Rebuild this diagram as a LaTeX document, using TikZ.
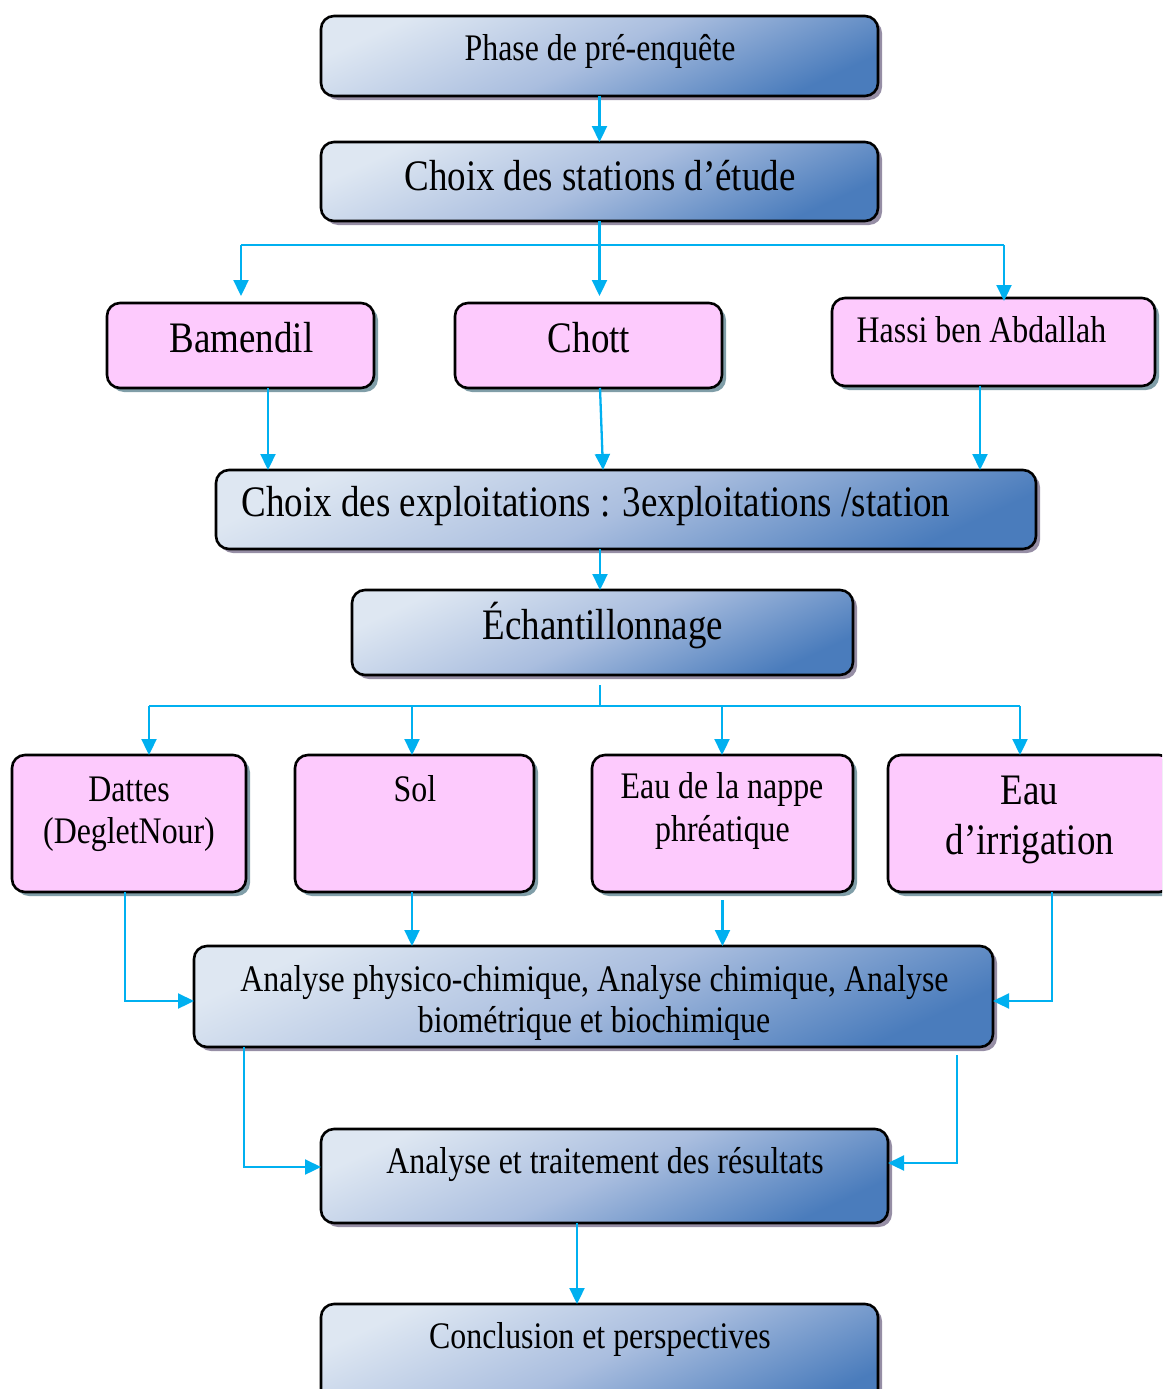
\documentclass[tikz,border=0pt]{standalone}
\usepackage{fontspec}
\setmainfont[FakeStretch=0.85]{Liberation Serif}
\usetikzlibrary{arrows.meta,shadows,calc}
\definecolor{arrc}{RGB}{0,176,240}
\definecolor{lightb}{RGB}{222,231,242}
\definecolor{midb}{RGB}{170,190,223}
\definecolor{darkb}{RGB}{74,124,188}
\definecolor{pinkc}{RGB}{253,202,253}
\definecolor{pshadow}{RGB}{128,158,168}
\definecolor{bshadow}{RGB}{150,142,165}
\newcommand{\smallf}{\fontsize{37.5}{45}\selectfont}
\newcommand{\bigf}{\fontsize{43.5}{52}\selectfont}
\tikzset{
  boxbase/.style={draw=black, line width=2.6pt, rounded corners=13pt, inner sep=0pt, outer sep=0pt},
  bluebox/.style={boxbase, top color=lightb, bottom color=darkb, middle color=midb, shading angle=25,
    drop shadow={shadow xshift=4pt, shadow yshift=-4pt, fill=bshadow, opacity=1}},
  pinkbox/.style={boxbase, fill=pinkc,
    drop shadow={shadow xshift=4pt, shadow yshift=-4pt, fill=pshadow, opacity=1}},
  txt/.style={anchor=base, inner sep=0pt, text=black},
  line/.style={draw=arrc, line width=2.3pt},
  arr/.style={line, -{Triangle[length=16pt,width=15pt]}}
}
\begin{document}
\begin{tikzpicture}[x=1pt,y=-1pt]
\useasboundingbox (0,0) rectangle (1162,1389);
\clip (0,0) rectangle (1162,1389);
% boxes
\node[bluebox, minimum width=557pt, minimum height=80pt] (phase) at (599.5,56) {};
\node[bluebox, minimum width=557pt, minimum height=79pt] (choix) at (599.5,181.5) {};
\node[pinkbox, minimum width=267pt, minimum height=85pt] (bam) at (240.5,345.5) {};
\node[pinkbox, minimum width=267pt, minimum height=85pt] (chott) at (588.5,345.5) {};
\node[pinkbox, minimum width=323pt, minimum height=88pt] (hassi) at (993.5,342) {};
\node[bluebox, minimum width=820pt, minimum height=79pt] (expl) at (626,509.5) {};
\node[bluebox, minimum width=501pt, minimum height=85pt] (ech) at (602.5,632.5) {};
\node[pinkbox, minimum width=234pt, minimum height=137pt] (dattes) at (129,823.5) {};
\node[pinkbox, minimum width=239pt, minimum height=137pt] (sol) at (414.5,823.5) {};
\node[pinkbox, minimum width=261pt, minimum height=137pt] (nappe) at (722.5,823.5) {};
\node[pinkbox, minimum width=284pt, minimum height=137pt] (irr) at (1030,823.5) {};
\node[bluebox, minimum width=799pt, minimum height=101pt] (ana) at (593.5,996.5) {};
\node[bluebox, minimum width=567pt, minimum height=94pt] (trait) at (604.5,1176) {};
\node[bluebox, minimum width=557pt, minimum height=112pt] (concl) at (599.5,1360) {};
% texts
\node[txt] (tphase) at (600,60) {\smallf Phase de pré-enquête};
\node[txt] (tchoix) at (600,190) {\bigf Choix des stations d’étude};
\node[txt] (tbam) at (241.5,352) {\bigf Bamendil};
\node[txt] (tchott) at (589,352) {\bigf Chott};
\node[txt] (thassi) at (981.5,342) {\smallf Hassi ben Abdallah};
\node[txt] (texpl) at (596,516) {\bigf Choix des exploitations : 3exploitations /station};
\node[txt] (tech) at (603,639) {\bigf Échantillonnage};
\node[txt] (tdat1) at (129,801) {\smallf Dattes};
\node[txt] (tdat2) at (129,843) {\smallf (DegletNour)};
\node[txt] (tsol) at (415,801) {\smallf Sol};
\node[txt] (tnap1) at (722,798) {\smallf Eau de la nappe};
\node[txt] (tnap2) at (722.5,841) {\smallf phréatique};
\node[txt] (tirr1) at (1029.5,804) {\bigf Eau};
\node[txt] (tirr2) at (1030,854) {\bigf d’irrigation};
\node[txt] (tana1) at (594.5,991) {\smallf Analyse physico-chimique, Analyse chimique, Analyse};
\node[txt] (tana2) at (594,1032) {\smallf biométrique et biochimique};
\node[txt] (ttrait) at (605,1173) {\smallf Analyse et traitement des résultats};
\node[txt] (tconcl) at (600,1348) {\smallf Conclusion et perspectives};
% junction coordinates
\coordinate (j1) at (599.5,245);
\coordinate (jb) at (241,245);
\coordinate (jh) at (1004,245);
\coordinate (j2) at (600,706);
\coordinate (jd) at (149,706);
\coordinate (js) at (412,706);
\coordinate (jn) at (722,706);
\coordinate (ji) at (1020,706);
% connectors
\draw[arr] (phase.south) -- (choix.north);
\draw[line] (choix.south) -- (j1);
\draw[line] (jb) -- (jh);
\draw[arr, shorten >=7pt] (jb) -- (jb |- bam.north);
\draw[arr, shorten >=7pt] (j1) -- (j1 |- chott.north);
\draw[arr, shorten >=-3pt] (jh) -- (jh |- hassi.north);
\draw[arr] ([xshift=27.5pt]bam.south) -- ([xshift=27.5pt]bam.south |- expl.north);
\draw[arr] ([xshift=11.5pt]chott.south) -- ([xshift=14.5pt]chott.south |- expl.north);
\draw[arr] ([xshift=-13.5pt]hassi.south) -- ([xshift=-13.5pt]hassi.south |- expl.north);
\draw[arr] ([xshift=-2.5pt]ech.north |- expl.south) -- ([xshift=-2.5pt]ech.north);
\draw[line] ($(j2 |- ech.south)+(0,10)$) -- (j2);
\draw[line] (jd) -- (ji);
\draw[arr] (jd) -- (jd |- dattes.north);
\draw[arr] (js) -- (js |- sol.north);
\draw[arr] (jn) -- (jn |- nappe.north);
\draw[arr] (ji) -- (ji |- irr.north);
\draw[arr] ([xshift=-4pt]dattes.south) |- ([yshift=-4.5pt]ana.west);
\draw[arr] ([xshift=-2.5pt]sol.south) -- ([xshift=-2.5pt]sol.south |- ana.north);
\draw[arr] ([yshift=-8pt]nappe.south) -- (nappe.south |- ana.north);
\draw[arr] ([xshift=22pt]irr.south) |- ([yshift=-4.5pt]ana.east);
\draw[arr] ([xshift=-349.5pt]ana.south) |- ([yshift=9pt]trait.west);
\draw[arr] ([xshift=363.5pt,yshift=-8pt]ana.south) |- ([yshift=13pt]trait.east);
\draw[arr] ([xshift=-27.5pt]trait.south) -- ([xshift=-27.5pt]trait.south |- concl.north);
\end{tikzpicture}
\end{document}
